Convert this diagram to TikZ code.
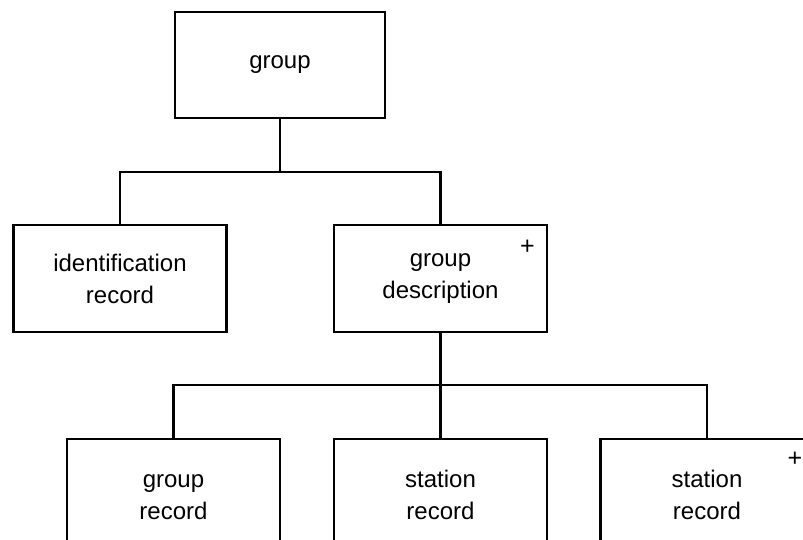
\documentclass[tikz,border=0pt]{standalone}
\usepackage{fontspec}
\setmainfont{Liberation Sans}
\usepackage{tikz}

\begin{document}
\begin{tikzpicture}[x=0.5pt,y=-0.5pt,line width=1.4pt]
  % Styles
  \tikzstyle{record}=[draw,rectangle,minimum width=106.5pt,minimum height=53.5pt,
    align=center,inner sep=0pt,font=\fontsize{12}{16}\selectfont]
  \tikzstyle{repeat mark}=[inner sep=0pt,font=\fontsize{12.5}{12.5}\selectfont]

  % The frame
  \useasboundingbox (0,0) rectangle (803,540);
  \clip (0,0) rectangle (803,540);

  % The records
  \node[record,minimum width=105pt,minimum height=53pt] (group) at (280,65) {group};

  \node[record] (ident) at (120,278.5) {identification\\record};
  \node[record] (gdesc) at (440.5,278.5) {group\\description};

  \node[record] (grec) at (173.5,492.5) {\strut group\\record};
  \node[record] (srec) at (440.5,492.5) {\strut station\\record};
  \node[record] (srecb) at (707,492.5) {\strut station\\record};

  % Repetition marks
  \node[repeat mark] (gdplus) at ([xshift=-10.5pt,yshift=-12pt]gdesc.north east) {+};
  \node[repeat mark] (srplus) at ([xshift=-10pt,yshift=-11pt]srecb.north east) {+};

  % Connectors
  \coordinate (busa) at (280,172);
  \coordinate (busb) at (440.5,385);

  \draw (group.south) -- (busa);
  \draw (ident.north) |- (busa) -| (gdesc.north);

  \draw (gdesc.south) -- (srec.north);
  \draw (grec.north) |- (busb) -| (srecb.north);
\end{tikzpicture}
\end{document}
